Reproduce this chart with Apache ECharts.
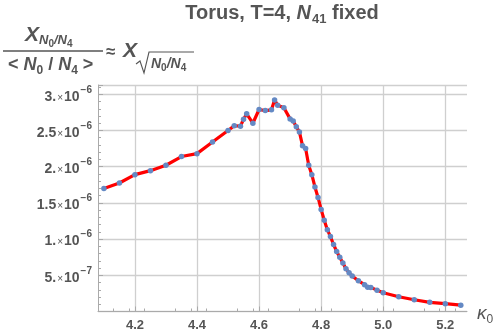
<!DOCTYPE html>
<html>
<head>
<meta charset="utf-8">
<script src="https://cdn.jsdelivr.net/npm/echarts@6/dist/echarts.min.js"></script>
<style>html,body{margin:0;padding:0;background:#fff}#c{width:500px;height:336px}</style>
</head>
<body>
<div id="c"></div>
<script>
// kappa_0 values (x)
var kappa = [4.10, 4.15, 4.20, 4.25, 4.30, 4.35, 4.40, 4.45, 4.50, 4.52, 4.54, 4.55, 4.56, 4.58, 4.60, 4.62, 4.64, 4.65, 4.66, 4.68,
             4.70, 4.71, 4.72, 4.73, 4.74, 4.75, 4.76, 4.77, 4.78, 4.79, 4.80, 4.81, 4.82, 4.83, 4.84, 4.85, 4.86, 4.87, 4.88, 4.89,
             4.90, 4.92, 4.94, 4.95, 4.96, 4.98, 5.00, 5.05, 5.10, 5.15, 5.20, 5.25];
// susceptibility values in units of 1e-6
var chiE6 = [1.70, 1.775, 1.89, 1.945, 2.02, 2.14, 2.18, 2.34, 2.50, 2.565, 2.56, 2.655, 2.73, 2.60, 2.79, 2.775, 2.785, 2.92, 2.85, 2.815,
             2.66, 2.63, 2.55, 2.48, 2.29, 2.25, 2.02, 1.89, 1.72, 1.575, 1.41, 1.26, 1.13, 1.035, 0.925, 0.83, 0.75, 0.67, 0.59, 0.535,
             0.49, 0.425, 0.37, 0.335, 0.333, 0.295, 0.26, 0.204, 0.162, 0.127, 0.108, 0.088];
var xTicks = [4.2, 4.4, 4.6, 4.8, 5.0, 5.2];

var FONT = '"Liberation Sans", Arial, sans-serif';
var GRAY = '#555';
var data = kappa.map(function (k, i) { return [k, chiE6[i] * 1e-6]; });

function yFmt(v) {
  if (v <= 0) return '';
  var e = Math.floor(Math.log10(v) + 1e-9);
  var m = Math.round(v / Math.pow(10, e) * 10) / 10;
  var ms = (m % 1 === 0) ? (m + '.') : String(m);
  return '{m|' + ms + '}{x|×}{t|10}{e|−' + (-e) + '}';
}

var chart = echarts.init(document.getElementById('c'));
chart.setOption({
  animation: false,
  backgroundColor: '#fff',
  grid: { left: 98, right: 33, top: 85, bottom: 24.5, containLabel: false },
  xAxis: {
    type: 'value', min: 4.081, max: 5.27, interval: 0.2,
    axisLine: { show: true, onZero: false, lineStyle: { color: '#aaa', width: 1 } },
    axisTick: { show: true, inside: true, length: 5, lineStyle: { color: '#aaa' }, customValues: xTicks },
    minorTick: { show: true, splitNumber: 4, length: 3, lineStyle: { color: '#aaa' } },
    splitLine: { show: true, lineStyle: { color: '#cfcfcf', width: 1.3 } },
    axisLabel: {
      customValues: xTicks,
      formatter: function (v) { return v.toFixed(1); },
      color: GRAY, fontFamily: FONT, fontSize: 13, fontWeight: 'bold', margin: 7
    }
  },
  yAxis: {
    type: 'value', min: 0, max: 3.128e-6, interval: 0.5e-6,
    axisLine: { show: true, lineStyle: { color: '#aaa', width: 1 } },
    axisTick: { show: true, inside: true, length: 5, lineStyle: { color: '#aaa' } },
    minorTick: { show: true, splitNumber: 5, length: 3, lineStyle: { color: '#aaa' } },
    splitLine: { show: true, lineStyle: { color: '#cfcfcf', width: 1.3 } },
    axisLabel: {
      formatter: yFmt, margin: 6,
      rich: {
        m: { fontFamily: FONT, fontSize: 14, fontWeight: 'bold', color: GRAY, verticalAlign: 'top', padding: [5, 0, 0, 0] },
        x: { fontFamily: FONT, fontSize: 10, color: GRAY, verticalAlign: 'top', padding: [8, 1, 0, 1] },
        t: { fontFamily: FONT, fontSize: 14, fontWeight: 'bold', color: GRAY, verticalAlign: 'top', padding: [5, 0, 0, 0] },
        e: { fontFamily: FONT, fontSize: 10, fontWeight: 'bold', color: GRAY, verticalAlign: 'top', padding: [0, 0, 0, 1] }
      }
    }
  },
  series: [{
    type: 'line', data: data, smooth: false,
    lineStyle: { color: '#ff0000', width: 3.2 },
    symbol: 'circle', symbolSize: 5.5, showAllSymbol: true,
    itemStyle: { color: '#6489c4' }
  }],
  graphic: [
    { type: 'text', x: 282, y: 3, style: {
      text: '{a|Torus, T=4, }{n|N}{s|41}{a| fixed}', align: 'center', verticalAlign: 'top',
      rich: {
        a: { fontFamily: FONT, fontSize: 20, fontWeight: 'bold', fill: GRAY, verticalAlign: 'top' },
        n: { fontFamily: FONT, fontSize: 20, fontWeight: 'bold', fontStyle: 'italic', fill: GRAY, verticalAlign: 'top' },
        s: { fontFamily: FONT, fontSize: 13, fontWeight: 'bold', fill: GRAY, verticalAlign: 'top', padding: [10, 0, 0, 1] }
      } } },
    { type: 'text', x: 25, y: 25, style: {
      text: '{X|X}{s|N}{z|0}{s|/}{s|N}{z|4}', verticalAlign: 'top',
      rich: {
        X: { fontFamily: FONT, fontSize: 21, fontWeight: 'bold', fontStyle: 'italic', fill: GRAY, verticalAlign: 'top' },
        s: { fontFamily: FONT, fontSize: 13, fontWeight: 'bold', fontStyle: 'italic', fill: GRAY, verticalAlign: 'top', padding: [9, 0, 0, 0] },
        z: { fontFamily: FONT, fontSize: 10, fontWeight: 'bold', fill: GRAY, verticalAlign: 'top', padding: [14, 0, 0, 0] }
      } } },
    { type: 'line', shape: { x1: 3, y1: 51, x2: 103, y2: 51 }, style: { stroke: GRAY, lineWidth: 1.3 } },
    { type: 'text', x: 8, y: 56, style: {
      text: '{a|< }{N|N}{s|0}{a| / }{N|N}{s|4}{a| >}', verticalAlign: 'top',
      rich: {
        a: { fontFamily: FONT, fontSize: 18, fontWeight: 'bold', fill: GRAY, verticalAlign: 'top' },
        N: { fontFamily: FONT, fontSize: 18, fontWeight: 'bold', fontStyle: 'italic', fill: GRAY, verticalAlign: 'top' },
        s: { fontFamily: FONT, fontSize: 12, fontWeight: 'bold', fill: GRAY, verticalAlign: 'top', padding: [9, 0, 0, 0] }
      } } },
    { type: 'text', x: 106, y: 44, style: { text: '≈', fontFamily: FONT, fontSize: 17, fontWeight: 'bold', fill: GRAY, verticalAlign: 'top' } },
    { type: 'text', x: 123, y: 41, style: { text: 'X', fontFamily: FONT, fontSize: 21, fontWeight: 'bold', fontStyle: 'italic', fill: GRAY, verticalAlign: 'top' } },
    { type: 'polyline', shape: { points: [[136, 64], [140, 61], [144, 73], [149, 52], [194, 52]] }, style: { stroke: GRAY, lineWidth: 1.1, fill: null } },
    { type: 'text', x: 151, y: 57, style: {
      text: '{N|N}{s|0}{N|/}{N|N}{s|4}', verticalAlign: 'top',
      rich: {
        N: { fontFamily: FONT, fontSize: 14, fontWeight: 'bold', fontStyle: 'italic', fill: GRAY, verticalAlign: 'top' },
        s: { fontFamily: FONT, fontSize: 10, fontWeight: 'bold', fill: GRAY, verticalAlign: 'top', padding: [6, 0, 0, 0] }
      } } },
    { type: 'text', x: 477, y: 304, style: {
      text: '{k|κ}{s|0}', verticalAlign: 'top',
      rich: {
        k: { fontFamily: FONT, fontSize: 19, fontStyle: 'italic', fill: GRAY, verticalAlign: 'top' },
        s: { fontFamily: FONT, fontSize: 12, fill: GRAY, verticalAlign: 'top', padding: [10, 0, 0, 0] }
      } } }
  ]
});
</script>
</body>
</html>
